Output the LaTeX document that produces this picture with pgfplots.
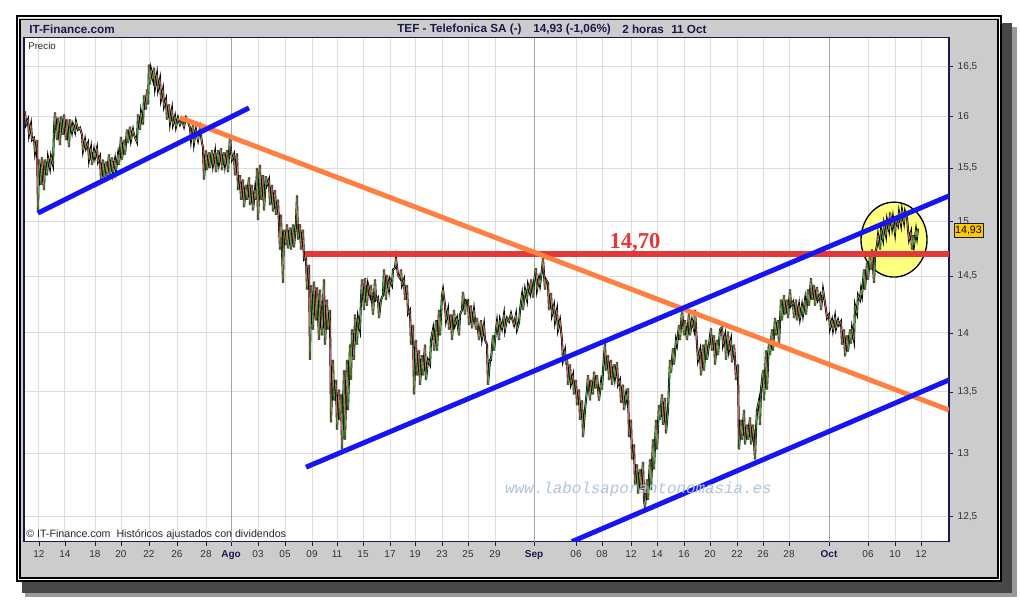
\documentclass[border=0pt]{standalone}
\usepackage{pgfplots}
\pgfplotsset{compat=1.18}
\usepackage{pgfplotstable}
\usepackage{fontspec}
\setmainfont{Liberation Sans}
\newfontfamily\serifb{Liberation Serif}
\newfontfamily\monof{Liberation Mono}
\definecolor{navy}{RGB}{25,25,75}
\definecolor{panel}{RGB}{204,204,204}
\definecolor{gridc}{RGB}{221,221,221}
\definecolor{monthgrid}{RGB}{165,165,165}
\definecolor{tblue}{RGB}{20,20,245}
\definecolor{torange}{RGB}{255,128,64}
\definecolor{tred}{RGB}{228,56,56}
\definecolor{ellfill}{RGB}{255,255,128}
\definecolor{gold}{RGB}{255,200,0}
\definecolor{wmark}{RGB}{176,196,222}

\pgfplotstableread{
x p
25 16.05
26 15.92
28 15.97
29 15.82
31 15.92
32 15.77
34 15.79
35 15.65
37 15.77
38 15.08
39 15.58
41 15.34
42 15.60
44 15.29
45 15.58
47 15.43
48 15.60
50 15.50
51 15.61
53 15.53
54 15.87
55 16.04
57 15.77
58 15.99
60 15.72
61 16.00
63 15.82
64 16.02
66 15.77
67 15.97
69 15.70
70 15.97
72 15.85
73 15.92
75 15.85
76 15.95
78 15.87
80 15.89
82 15.82
83 15.67
85 15.77
86 15.69
88 15.74
89 15.58
91 15.69
92 15.53
94 15.67
95 15.60
97 15.69
98 15.56
100 15.61
101 15.37
103 15.58
104 15.41
106 15.56
107 15.42
109 15.63
110 15.43
112 15.60
113 15.46
115 15.58
116 15.48
118 15.63
119 15.53
121 15.80
122 15.58
124 15.77
125 15.63
127 15.87
128 15.74
130 15.90
131 15.77
133 15.87
134 15.82
137 15.75
138 16.02
140 15.87
141 16.04
143 15.92
144 16.21
146 16.07
147 16.27
148 16.12
149 16.52
150 16.32
151 16.47
153 16.37
154 16.49
155 16.29
157 16.42
158 16.27
160 16.37
161 16.17
163 16.27
164 16.10
166 16.17
167 15.97
169 16.12
170 15.94
172 16.07
173 15.92
175 16.00
176 15.90
178 15.99
180 15.92
182 15.97
184 15.90
186 15.99
188 15.95
190 15.89
191 15.77
193 15.92
194 15.74
196 15.87
198 15.77
200 15.89
202 15.74
203 15.70
204 15.39
206 15.67
207 15.48
209 15.65
210 15.50
212 15.67
213 15.53
215 15.65
216 15.46
218 15.67
219 15.55
221 15.69
222 15.48
224 15.65
225 15.53
227 15.67
228 15.46
230 15.80
231 15.67
232 15.58
234 15.63
235 15.43
237 15.64
238 15.29
240 15.43
241 15.20
243 15.39
244 15.13
246 15.34
247 15.20
249 15.41
250 15.15
252 15.34
253 15.10
255 15.29
256 15.20
257 15.50
258 15.01
260 15.53
261 15.20
263 15.43
264 15.10
266 15.42
267 15.34
269 15.39
270 15.15
272 15.34
273 15.09
275 15.29
276 15.06
278 15.20
280 14.74
281 15.06
283 14.44
284 14.92
286 14.78
287 14.97
288 14.75
290 14.94
291 14.74
293 14.97
294 14.76
296 14.99
297 15.24
298 14.83
300 14.97
301 14.74
303 14.92
304 14.65
306 14.67
307 14.38
309 14.60
310 13.77
311 14.42
313 14.03
314 14.45
316 14.11
317 14.40
319 13.94
320 14.38
322 13.98
324 14.47
325 13.90
327 14.29
328 14.03
330 14.20
331 13.25
333 13.77
334 13.43
336 13.60
337 13.19
339 13.52
340 13.27
341 13.48
342 13.03
344 13.68
345 13.11
347 13.77
348 13.35
350 13.90
351 13.60
352 14.03
354 13.77
355 14.16
357 13.90
358 14.13
360 14.03
361 14.29
362 14.47
364 14.20
365 14.48
367 14.24
368 14.42
370 14.33
371 14.42
373 14.16
375 14.47
376 14.29
378 14.31
379 14.13
381 14.29
383 14.33
384 14.56
386 14.29
387 14.51
389 14.38
390 14.47
392 14.42
393 14.56
395 14.57
396 14.66
398 14.51
400 14.48
401 14.56
402 14.42
404 14.47
405 14.29
407 14.42
408 14.17
410 14.20
411 13.90
413 14.07
414 13.48
416 13.94
417 13.64
419 13.85
420 13.56
422 13.81
423 13.64
425 13.90
426 13.60
428 13.77
430 13.73
431 13.94
433 14.03
434 13.85
436 14.11
437 13.85
439 14.20
440 13.98
442 14.33
443 14.38
445 14.24
446 14.11
448 14.20
449 14.03
451 14.16
452 13.94
454 14.20
455 14.07
457 14.13
459 13.98
460 14.16
462 14.20
463 14.36
465 14.16
466 14.29
468 14.29
469 14.07
471 14.24
472 14.04
474 14.20
476 14.03
477 14.13
479 13.94
481 14.11
482 13.96
484 14.07
485 13.94
487 13.90
488 13.56
490 13.77
491 13.77
493 13.98
494 13.85
496 14.03
497 14.10
499 13.94
500 14.11
502 14.04
504 14.16
505 14.03
507 14.13
509 14.10
511 14.17
512 14.13
514 14.07
516 14.16
517 14.03
519 14.09
520 14.20
522 14.33
523 14.20
525 14.38
527 14.29
528 14.42
530 14.35
531 14.47
533 14.31
534 14.45
536 14.57
537 14.38
539 14.48
540 14.42
542 14.56
543 14.66
545 14.38
546 14.47
548 14.44
549 14.20
551 14.35
552 14.16
554 14.24
555 14.10
557 14.20
558 14.03
560 14.11
562 13.94
563 13.77
565 13.85
566 13.73
567 13.81
568 13.56
570 13.73
571 13.57
573 13.64
574 13.48
576 13.60
577 13.39
579 13.52
580 13.27
582 13.43
583 13.13
585 13.35
587 13.52
588 13.64
590 13.43
591 13.60
593 13.48
594 13.67
596 13.53
597 13.64
599 13.43
601 13.58
602 13.52
603 13.68
605 13.91
606 13.68
608 13.81
609 13.60
611 13.77
612 13.56
614 13.73
615 13.62
617 13.75
618 13.56
620 13.60
621 13.41
623 13.56
624 13.35
626 13.48
627 13.43
628 13.53
629 13.13
631 13.27
632 12.95
634 13.07
635 12.75
637 12.91
638 12.68
640 12.87
641 12.71
643 12.93
644 12.63
645 12.57
647 12.79
648 12.63
650 12.95
651 12.71
653 13.11
654 12.87
656 13.27
657 13.03
659 13.39
660 13.27
662 13.48
663 13.23
665 13.45
666 13.16
668 13.35
670 13.77
671 13.66
673 13.87
674 13.73
676 13.94
677 13.90
679 14.07
680 13.94
682 14.20
684 13.98
685 14.11
687 13.94
689 14.18
690 13.98
692 14.11
694 14.03
695 14.20
697 13.90
698 13.77
700 13.85
701 13.64
703 13.90
704 13.68
706 13.94
707 13.77
709 13.90
711 14.04
712 13.85
714 13.98
715 13.73
717 13.94
718 13.81
720 14.03
722 14.05
723 13.90
725 13.98
726 13.77
728 14.01
729 13.85
731 13.94
732 13.75
734 13.90
735 13.77
736 13.60
738 13.73
739 13.03
741 13.27
742 13.11
744 13.35
745 13.07
747 13.23
748 13.11
750 13.29
751 13.07
753 13.23
755 12.95
756 13.19
757 13.35
759 13.43
760 13.23
761 13.52
763 13.68
764 13.43
766 13.85
767 13.52
769 13.94
770 13.81
772 14.03
773 13.85
775 14.13
776 13.98
778 14.11
779 13.90
781 14.29
782 14.11
784 14.33
785 14.16
787 14.29
788 14.13
790 14.38
791 14.24
793 14.27
794 14.13
796 14.29
797 14.11
799 14.24
800 14.13
802 14.24
803 14.16
805 14.29
806 14.16
808 14.38
809 14.24
811 14.48
812 14.29
814 14.42
815 14.24
817 14.40
818 14.29
820 14.33
821 14.20
823 14.38
825 14.26
826 14.20
827 14.13
829 14.16
830 14.04
832 14.11
833 14.03
835 14.14
836 14.04
838 14.11
839 14.07
841 14.10
842 13.90
844 14.03
845 13.80
847 13.98
848 13.84
850 14.03
851 13.91
852 14.04
854 13.94
855 14.24
857 14.17
858 14.33
860 14.29
861 14.38
862 14.33
864 14.56
865 14.38
867 14.62
868 14.47
870 14.69
871 14.56
872 14.74
874 14.44
875 14.69
877 14.78
878 14.87
880 14.74
881 14.92
883 14.83
884 14.97
886 14.87
887 15.01
889 14.92
890 15.08
892 14.94
893 15.03
895 14.89
896 15.01
898 14.96
899 15.08
901 14.97
902 15.10
904 14.99
905 15.09
907 15.03
908 14.92
909 14.83
911 14.90
912 14.74
913 14.87
914 14.78
916 14.92
917 14.85
918 14.93
}\pricedata

\pgfplotstablecreatecol[
  create col/assign/.code={%
    \getthisrow{p}\cur
    \getnextrow{p}\nxt
    \ifx\nxt\empty
      \def\res{0}%
    \else
      \pgfmathparse{\nxt>\cur ? 1 : 0}\let\res\pgfmathresult
    \fi
    \pgfkeyslet{/pgfplots/table/create col/next content}\res
  }]{up}\pricedata

\begin{document}
\begin{tikzpicture}
\path[use as bounding box, fill=white] (0pt,0pt) rectangle (765pt,-450pt);
\begin{scope}[x=0.75pt,y=-0.75pt]
  \fill[black!40] (25,27) rectangle (1017,597);
  \fill[black!72] (22,23) rectangle (1012,593);
  \fill[panel] (16,15) rectangle (1002,582);
  \draw[black, line width=2pt] (17,16) rectangle (1001,581);
  \draw[white, line width=1pt] (18.8,17.8) rectangle (999.2,579.2);
  \draw[black, line width=0.8pt] (20,19.3) rectangle (998,578);
  \node[anchor=west, inner sep=0pt, text=navy, font=\bfseries\fontsize{8.8}{10}\selectfont] at (29,29) {IT-Finance.com};
  \node[anchor=west, inner sep=0pt, text=navy, font=\bfseries\fontsize{8.8}{10}\selectfont] at (397,29) {TEF - Telefonica SA (-)};
  \node[anchor=west, inner sep=0pt, text=navy, font=\bfseries\fontsize{8.8}{10}\selectfont] at (533,29) {14,93 (-1,06\%)};
  \node[anchor=west, inner sep=0pt, text=navy, font=\bfseries\fontsize{8.8}{10}\selectfont] at (622,29) {2 horas};
  \node[anchor=west, inner sep=0pt, text=navy, font=\bfseries\fontsize{8.8}{10}\selectfont] at (671,29) {11 Oct};
\end{scope}

\begin{axis}[
  at={(18pt,-406.5pt)}, anchor=south west,
  scale only axis, width=693.75pt, height=378pt,
  xmin=24, xmax=949, ymode=log, ymin=12.307, ymax=16.795,
  axis background/.style={fill=white},
  axis line style={navy, line width=0.8pt},
  xtick={39,65,95,121,149,177,206,231,258,285,312,337,363,390,415,442,468,495,534,576,602,631,657,684,710,737,763,789,829,868,895,921},
  xticklabels={12,14,18,20,22,26,28,\textcolor{navy}{\textbf{Ago}},03,05,09,11,15,17,19,23,25,29,\textcolor{navy}{\textbf{Sep}},06,08,12,14,16,20,22,26,28,\textcolor{navy}{\textbf{Oct}},06,10,12},
  ytick={12.5,13,13.5,14,14.5,15,15.5,16,16.5},
  yticklabels={{12,5},13,{13,5},14,{14,5},15,{15,5},16,{16,5}},
  xtick pos=bottom, ytick pos=right, yticklabel pos=right,
  tick align=outside, major tick length=3pt,
  tick style={navy, line width=0.6pt},
  grid=major, major grid style={gridc, line width=0.75pt},
  ticklabel style={font=\fontsize{7.5}{9}\selectfont, text=black!80},
  extra x ticks={231,534,829}, extra x tick labels={},
  extra x tick style={major grid style={monthgrid, line width=0.75pt}},
  colormap={updown}{rgb255=(222,100,100) rgb255=(60,185,60)},
  clip=true,
]
\draw[black, line width=1pt, fill=ellfill] (axis cs:894,14.83) ellipse [x radius=24.75pt, y radius=28.1pt];
\addplot[black, line width=1.5pt, no marks] table[x=x, y=p] {\pricedata};
\addplot[mesh, shader=flat corner, point meta=explicit, point meta min=0, point meta max=1, line width=0.6pt, no marks] table[x=x, y=p, meta=up] {\pricedata};
\addplot[tred, line width=4.2pt, no marks] coordinates {(305,14.70) (949,14.70)};
\addplot[torange, line width=3.7pt, no marks] coordinates {(180,15.99) (949,13.35)};
\addplot[tblue, line width=3.7pt, no marks] coordinates {(38,15.075) (249,16.085)};
\addplot[tblue, line width=3.7pt, no marks] coordinates {(306,12.888) (949,15.235)};
\addplot[tblue, line width=3.7pt, no marks] coordinates {(572,12.31) (949,13.60)};
\node[text=tred, font=\serifb\bfseries\fontsize{17}{18}\selectfont] at (axis cs:635,14.80) {14,70};
\node[text=wmark, font=\monof\itshape\fontsize{11.9}{13}\selectfont] at (axis cs:638.5,12.71) {www.labolsaporantonomasia.es};
\node[anchor=west, inner sep=0pt, font=\fontsize{7.3}{8}\selectfont, text=black!85] at (axis cs:28,16.71) {Precio};
\node[anchor=west, inner sep=0pt, font=\fontsize{8}{9}\selectfont, text=black!85] at (axis cs:26,12.36) {\textcopyright\ IT-Finance.com\ \ Históricos ajustados con dividendos};
\end{axis}

\begin{scope}[x=0.75pt,y=-0.75pt]
  \draw[navy, line width=0.6pt, fill=gold] (954,223) rectangle (983,237);
  \node[inner sep=0pt, font=\fontsize{8}{9}\selectfont, text=black] at (968.5,230.3) {14,93};
\end{scope}
\end{tikzpicture}
\end{document}
